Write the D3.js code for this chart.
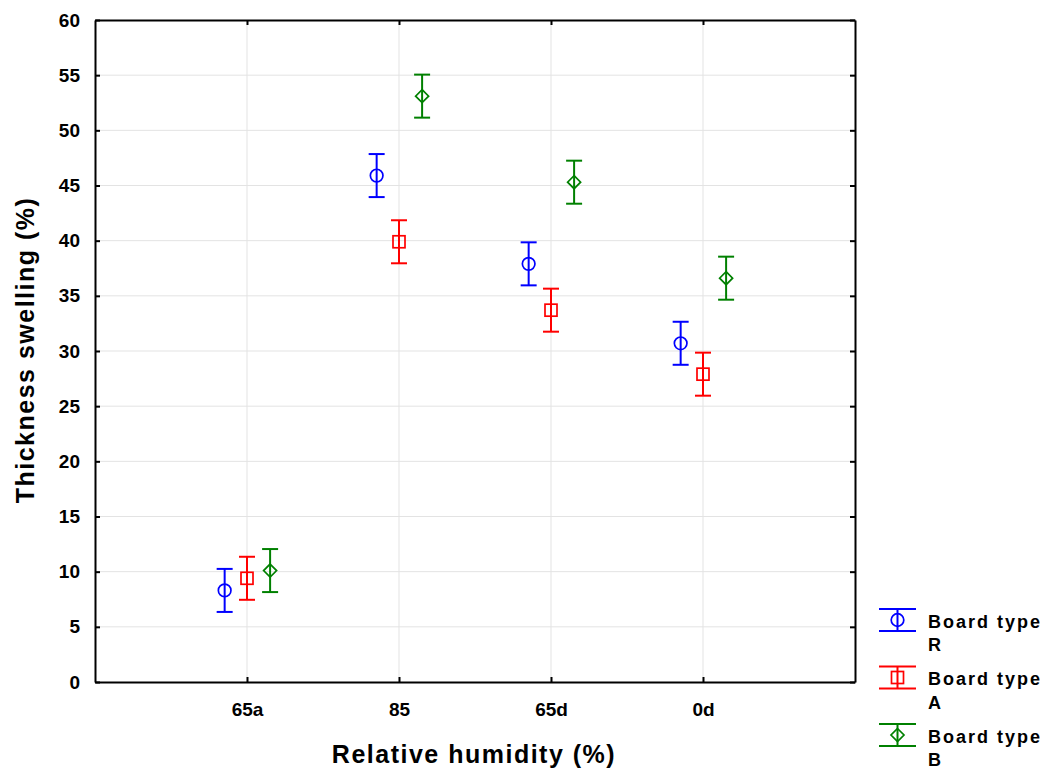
<!DOCTYPE html>
<html>
<head>
<meta charset="utf-8">
<script src="https://cdn.jsdelivr.net/npm/d3@7"></script>
<style>
body { margin: 0; background: #fff; }
text { font-family: "Liberation Sans", Arial, sans-serif; font-weight: bold; }
</style>
</head>
<body>
<svg id="chart" width="1047" height="772"></svg>
<script>
const categories = ["65a", "85", "65d", "0d"];
const seriesNames = ["Board type R", "Board type A", "Board type B"];
const seriesShort = ["R", "A", "B"];
const seriesColors = ["#0000ff", "#ff0000", "#008000"];
const seriesShapes = ["circle", "square", "diamond"];
const meanR = [8.3, 45.9, 37.9, 30.7];
const meanA = [9.4, 39.9, 33.7, 27.9];
const meanB = [10.1, 53.1, 45.3, 36.6];
const errR = [1.95, 1.95, 1.95, 1.95];
const errA = [1.95, 1.95, 1.95, 1.95];
const errB = [1.95, 1.95, 1.95, 1.95];
const yTicks = [0, 5, 10, 15, 20, 25, 30, 35, 40, 45, 50, 55, 60];

const means = [meanR, meanA, meanB];
const errs = [errR, errA, errB];
const offsets = [-0.147, 0, 0.152];

const svg = d3.select("#chart");
const L = 95, R = 855, T = 20, B = 682;

const x = d3.scaleLinear().domain([0, categories.length + 1]).range([L, R]);
const y = d3.scaleLinear().domain([0, 60]).range([B, T]);

// grid
const g = svg.append("g");
g.selectAll("line.hg").data(yTicks.slice(1, -1)).enter().append("line")
  .attr("x1", L).attr("x2", R).attr("y1", d => y(d)).attr("y2", d => y(d))
  .attr("stroke", "#e3e3e3").attr("stroke-width", 1);
g.selectAll("line.vg").data(categories).enter().append("line")
  .attr("x1", (d, i) => x(i + 1)).attr("x2", (d, i) => x(i + 1))
  .attr("y1", T).attr("y2", B)
  .attr("stroke", "#e3e3e3").attr("stroke-width", 1);

// axes
const yAxis = d3.axisLeft(y).tickValues(yTicks).tickSize(-5).tickPadding(15);
const yAxisR = d3.axisRight(y).tickValues(yTicks).tickSize(-5).tickFormat("");
const xAxis = d3.axisBottom(x).tickValues(categories.map((c, i) => i + 1))
  .tickFormat((d) => categories[d - 1]).tickSize(-5).tickPadding(21);
const xAxisT = d3.axisTop(x).tickValues(categories.map((c, i) => i + 1))
  .tickFormat("").tickSize(-5);

function styleAxis(sel) {
  sel.select(".domain").attr("stroke", "#000").attr("stroke-width", 2);
  sel.selectAll(".tick line").attr("stroke", "#000").attr("stroke-width", 2);
  sel.selectAll(".tick text").attr("fill", "#000")
    .style("font-size", "19px").style("font-weight", "bold")
    .style("font-family", "'Liberation Sans', Arial, sans-serif");
}
svg.append("g").attr("transform", `translate(${L},0)`).call(yAxis.tickSizeOuter(0)).call(styleAxis);
svg.append("g").attr("transform", `translate(${R},0)`).call(yAxisR.tickSizeOuter(0)).call(styleAxis);
svg.append("g").attr("transform", `translate(0,${B})`).call(xAxis.tickSizeOuter(0)).call(styleAxis);
svg.append("g").attr("transform", `translate(0,${T})`).call(xAxisT.tickSizeOuter(0)).call(styleAxis);

// marker drawing
function drawMarker(sel, shape, cx, cy, color) {
  if (shape === "circle") {
    sel.append("circle").attr("cx", cx).attr("cy", cy).attr("r", 6.3)
      .attr("fill", "none").attr("stroke", color).attr("stroke-width", 1.7);
  } else if (shape === "square") {
    sel.append("rect").attr("x", cx - 6).attr("y", cy - 6).attr("width", 12).attr("height", 12)
      .attr("fill", "none").attr("stroke", color).attr("stroke-width", 1.7);
  } else {
    const s = 6.5;
    sel.append("path").attr("d", `M${cx},${cy - s}L${cx + s},${cy}L${cx},${cy + s}L${cx - s},${cy}Z`)
      .attr("fill", "none").attr("stroke", color).attr("stroke-width", 1.7);
  }
}

// series
seriesNames.forEach((name, si) => {
  const gs = svg.append("g");
  const color = seriesColors[si];
  categories.forEach((c, ci) => {
    const cx = x(ci + 1 + offsets[si]);
    const m = means[si][ci], e = errs[si][ci];
    const yt = y(m + e), yb = y(m - e), ym = y(m);
    gs.append("line").attr("x1", cx).attr("x2", cx).attr("y1", yt).attr("y2", yb)
      .attr("stroke", color).attr("stroke-width", 2);
    [yt, yb].forEach(yy => gs.append("line").attr("x1", cx - 8).attr("x2", cx + 8)
      .attr("y1", yy).attr("y2", yy).attr("stroke", color).attr("stroke-width", 2));
    drawMarker(gs, seriesShapes[si], cx, ym, color);
  });
});

// axis titles
svg.append("text").attr("x", 474).attr("y", 763).attr("text-anchor", "middle")
  .style("font-size", "25px").attr("letter-spacing", "1.5px").text("Relative humidity (%)");
svg.append("text").attr("transform", "translate(34,350) rotate(-90)").attr("text-anchor", "middle")
  .style("font-size", "25px").attr("letter-spacing", "1.5px").text("Thickness swelling (%)");

// legend
const leg = svg.append("g");
seriesNames.forEach((name, si) => {
  const top = 609 + si * 57.5;
  const color = seriesColors[si];
  const cx = 897.5;
  leg.append("line").attr("x1", 879).attr("x2", 916).attr("y1", top).attr("y2", top)
    .attr("stroke", color).attr("stroke-width", 2);
  leg.append("line").attr("x1", 879).attr("x2", 916).attr("y1", top + 22).attr("y2", top + 22)
    .attr("stroke", color).attr("stroke-width", 2);
  leg.append("line").attr("x1", cx).attr("x2", cx).attr("y1", top).attr("y2", top + 22)
    .attr("stroke", color).attr("stroke-width", 2);
  drawMarker(leg, seriesShapes[si], cx, top + 11, color);
  leg.append("text").attr("x", 928).attr("y", top + 18.5)
    .style("font-size", "18px").attr("letter-spacing", "2px").text("Board type");
  leg.append("text").attr("x", 928).attr("y", top + 42)
    .style("font-size", "18px").text(seriesShort[si]);
});
</script>
</body>
</html>
